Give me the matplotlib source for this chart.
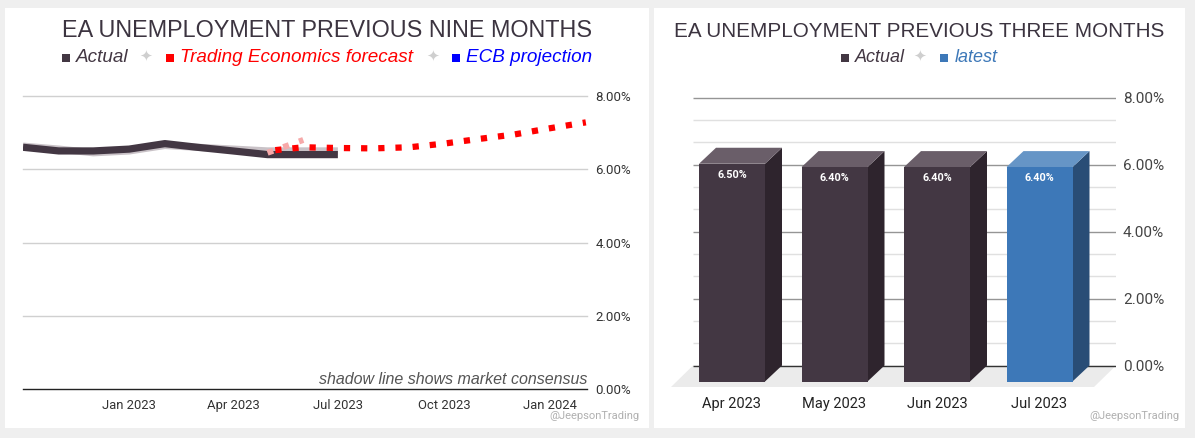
import matplotlib
matplotlib.use('Agg')
import matplotlib.pyplot as plt
from matplotlib.patches import Rectangle, Polygon
import datetime as dt

# ---------------- data ----------------
actual_months = ['2022-10', '2022-11', '2022-12', '2023-01', '2023-02', '2023-03',
                 '2023-04', '2023-05', '2023-06', '2023-07']
actual_values = [6.6, 6.5, 6.5, 6.55, 6.7, 6.6, 6.5, 6.4, 6.4, 6.4]
consensus_values = [6.63, 6.55, 6.45, 6.5, 6.65, 6.6, 6.55, 6.5, 6.5, 6.5]

forecast_months = ['2023-05', '2023-06', '2023-07', '2023-08', '2023-09', '2023-10',
                   '2023-11', '2023-12', '2024-01', '2024-02']
forecast_values = [6.5, 6.6, 6.58, 6.57, 6.6, 6.7, 6.83, 6.95, 7.12, 7.28]
forecast_consensus_months = ['2023-05', '2023-06']
forecast_consensus_values = [6.45, 6.8]

left_xtick_months = ['2023-01', '2023-04', '2023-07', '2023-10', '2024-01']
left_xtick_labels = ['Jan 2023', 'Apr 2023', 'Jul 2023', 'Oct 2023', 'Jan 2024']
y_ticks = [0, 2, 4, 6, 8]
y_tick_labels = ['0.00%', '2.00%', '4.00%', '6.00%', '8.00%']

bar_categories = ['Apr 2023', 'May 2023', 'Jun 2023', 'Jul 2023']
bar_values = [6.5, 6.4, 6.4, 6.4]
bar_value_labels = ['6.50%', '6.40%', '6.40%', '6.40%']
bar_is_latest = [False, False, False, True]

left_title = 'EA UNEMPLOYMENT PREVIOUS NINE MONTHS'
right_title = 'EA UNEMPLOYMENT PREVIOUS THREE MONTHS'


def to_date(s):
    y, m = s.split('-')
    return dt.date(int(y), int(m), 1)


# ---------------- figure ----------------
W, H = 1195, 438
plt.rcParams['font.family'] = ['Roboto', 'DejaVu Sans']
HEAD_FONT = ['Liberation Sans', 'DejaVu Sans']
fig = plt.figure(figsize=(W / 100, H / 100), dpi=100)
fig.patch.set_facecolor('#efefef')


def fx(px):
    return px / W


def fy(py):
    return 1 - py / H


def frect(x0, y0, x1, y1):
    return [fx(x0), fy(y1), (x1 - x0) / W, (y1 - y0) / H]


# panels
fig.patches.append(Rectangle((fx(5), fy(428)), (649 - 5) / W, (428 - 8) / H,
                             transform=fig.transFigure, facecolor='white', edgecolor='none', zorder=-5))
fig.patches.append(Rectangle((fx(654), fy(428)), (1185 - 654) / W, (428 - 8) / H,
                             transform=fig.transFigure, facecolor='white', edgecolor='none', zorder=-5))

DARK = '#433743'
TITLE_C = '#3c3440'

renderer = fig.canvas.get_renderer()


def legend_row(items, cx, baseline, size):
    widths = []
    arts = []
    for it in items:
        if it[0] == 'sq':
            widths.append(8)
            arts.append(None)
        elif it[0] == 'gap':
            widths.append(it[1])
            arts.append(None)
        elif it[0] == 'star':
            t = fig.text(0, 0, '\u2726', color='#cfcfcf', fontsize=11,
                         family=['DejaVu Sans'], ha='left', va='baseline')
            widths.append(t.get_window_extent(renderer).width)
            arts.append(t)
        else:
            t = fig.text(0, 0, it[1], color=it[2], fontsize=size, style='italic',
                         family=HEAD_FONT, ha='left', va='baseline')
            widths.append(t.get_window_extent(renderer).width)
            arts.append(t)
    x = cx - sum(widths) / 2
    for it, w, a in zip(items, widths, arts):
        if it[0] == 'sq':
            fig.patches.append(Rectangle((fx(x), fy(baseline)), 8 / W, 8 / H,
                                         transform=fig.transFigure, facecolor=it[1],
                                         edgecolor='none', zorder=3))
        elif a is not None:
            yy = baseline if it[0] != 'star' else baseline - 1
            a.set_position((fx(x), fy(yy)))
        x += w


# ---------------- left chart ----------------
fig.text(fx(327), fy(36.7), left_title, fontsize=16.8, color=TITLE_C, family=HEAD_FONT,
         ha='center', va='baseline')
legend_row([('sq', DARK), ('gap', 6), ('txt', 'Actual', DARK), ('gap', 10), ('star',), ('gap', 14),
            ('sq', '#ff0000'), ('gap', 6), ('txt', 'Trading Economics forecast', '#ff0000'),
            ('gap', 14), ('star',), ('gap', 12),
            ('sq', '#0000ff'), ('gap', 6), ('txt', 'ECB projection', '#0000ff')], 327, 62, 13.6)

ax1 = fig.add_axes(frect(23, 96, 587, 389))
ax1.set_facecolor('none')
ax1.set_xlim(dt.date(2022, 10, 1), dt.date(2024, 2, 2))
ax1.set_ylim(0, 8)
for s in ['top', 'left', 'right']:
    ax1.spines[s].set_visible(False)
ax1.spines['bottom'].set_color('#222222')
ax1.spines['bottom'].set_linewidth(1.0)
for v in y_ticks[1:]:
    ax1.axhline(v, color='#d0d0d0', lw=1.0, clip_on=False, zorder=1)

ad = [to_date(m) for m in actual_months]
ax1.plot(ad, consensus_values, color='#c9c2c7', lw=5.2, solid_capstyle='butt',
         solid_joinstyle='round', zorder=2)
ax1.plot(ad, actual_values, color=DARK, lw=5.2, solid_capstyle='butt', solid_joinstyle='round', zorder=3)
fcd = [to_date(m) for m in forecast_consensus_months]
ax1.plot(fcd, forecast_consensus_values, color='#f6a9a9', lw=4.3, linestyle=(0, (1, 1.8)),
         dash_capstyle='butt', zorder=3.5)
fd = [to_date(m) for m in forecast_months]
ax1.plot(fd, forecast_values, color='#ff0000', lw=4.5, linestyle=(1.5, (1, 1.75)),
         dash_capstyle='butt', zorder=4, clip_on=False)

ax1.yaxis.tick_right()
ax1.set_yticks(y_ticks)
ax1.set_yticklabels(y_tick_labels)
ax1.set_xticks([to_date(m) for m in left_xtick_months])
ax1.set_xticklabels(left_xtick_labels)
ax1.tick_params(axis='y', length=0, pad=6, labelsize=9.5, labelcolor='#333333')
ax1.tick_params(axis='x', length=0, pad=7, labelsize=9.4, labelcolor='#333333')

fig.text(fx(587), fy(379), 'shadow line shows market consensus', fontsize=11.5, style='italic',
         family=HEAD_FONT, color='#555555', ha='right', va='center')
fig.text(fx(640), fy(416), '@JeepsonTrading', fontsize=8, color='#b0b0b0', ha='right', va='center')

# ---------------- right chart ----------------
fig.text(fx(919), fy(36.7), right_title, fontsize=14.9, color=TITLE_C, family=HEAD_FONT,
         ha='center', va='baseline')
legend_row([('sq', DARK), ('gap', 6), ('txt', 'Actual', DARK), ('gap', 9), ('star',), ('gap', 14),
            ('sq', '#3d78b8'), ('gap', 6), ('txt', 'latest', '#3d78b8')], 919, 62, 13)

PX_PER_CAT = 102.5
PX_PER_PCT = 33.5
ZERO_PY = 365.5
AX_X0, AX_X1 = 671, 1116
AX_Y0, AX_Y1 = 96, 388
ax2 = fig.add_axes(frect(AX_X0, AX_Y0, AX_X1, AX_Y1))
ax2.set_facecolor('none')
x_left = -(732 - AX_X0) / PX_PER_CAT
ax2.set_xlim(x_left, x_left + (AX_X1 - AX_X0) / PX_PER_CAT)
ax2.set_ylim(-(AX_Y1 - ZERO_PY) / PX_PER_PCT, (ZERO_PY - AX_Y0) / PX_PER_PCT)
for s in ax2.spines.values():
    s.set_visible(False)


def px2x(px):
    return x_left + (px - AX_X0) / PX_PER_CAT


depth_x = 17 / PX_PER_CAT
depth_y = 16 / PX_PER_PCT
bar_w = 66 / PX_PER_CAT
floor_front = -(387 - ZERO_PY) / PX_PER_PCT

# floor
ax2.add_patch(Polygon([(px2x(671), floor_front), (px2x(1094), floor_front),
                       (px2x(1116), 0), (px2x(693), 0)], closed=True,
                      facecolor='#ebebeb', edgecolor='none', zorder=1))
# gridlines
gl_x0, gl_x1 = px2x(693), px2x(1116)
for k in range(13):
    v = k * 2 / 3
    if k % 3 == 0:
        col = '#333333' if k == 0 else '#959595'
    else:
        col = '#e0e0e0'
    ax2.hlines(v, gl_x0, gl_x1, color=col, lw=1.0, zorder=2)

# bars
for i, (v, lab, latest) in enumerate(zip(bar_values, bar_value_labels, bar_is_latest)):
    if latest:
        cf, ct, cs = '#3d78b8', '#6695c6', '#294d76'
    else:
        cf, ct, cs = DARK, '#6a5e69', '#2e242d'
    l, r = i - bar_w / 2, i + bar_w / 2
    b, t = -depth_y, v - depth_y
    ax2.add_patch(Polygon([(r, b), (r + depth_x, 0), (r + depth_x, v), (r, t)],
                          facecolor=cs, edgecolor='none', zorder=3))
    ax2.add_patch(Polygon([(l, t), (r, t), (r + depth_x, v), (l + depth_x, v)],
                          facecolor=ct, edgecolor='none', zorder=3))
    ax2.add_patch(Rectangle((l, b), bar_w, t - b, facecolor=cf, edgecolor='none', zorder=4))
    ax2.text(i, t - 11 / PX_PER_PCT, lab, color='white', fontsize=7.8, fontweight='bold',
             ha='center', va='center', zorder=5)

ax2.yaxis.tick_right()
ax2.set_yticks(y_ticks)
ax2.set_yticklabels(y_tick_labels)
ax2.set_xticks(range(len(bar_categories)))
ax2.set_xticklabels(bar_categories)
ax2.tick_params(axis='y', length=0, pad=5, labelsize=11, labelcolor='#444444')
ax2.tick_params(axis='x', length=0, pad=6.5, labelsize=10.5, labelcolor='#222222')

fig.text(fx(1180), fy(416), '@JeepsonTrading', fontsize=8, color='#b0b0b0', ha='right', va='center')

fig.savefig('out.png', dpi=100, facecolor=fig.get_facecolor())
